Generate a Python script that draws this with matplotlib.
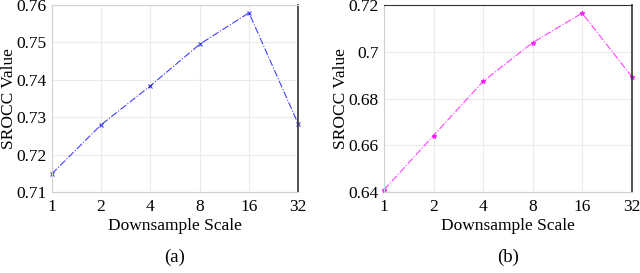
import matplotlib
matplotlib.use("Agg")
import matplotlib.pyplot as plt
import numpy as np

scales = [1, 2, 4, 8, 16, 32]
srocc_a = [0.7149, 0.7280, 0.7384, 0.7495, 0.7579, 0.7282]
srocc_b = [0.6410, 0.6642, 0.6873, 0.7039, 0.7165, 0.6894]
yticks_a = [0.71, 0.72, 0.73, 0.74, 0.75, 0.76]
yticklabels_a = ["0.71", "0.72", "0.73", "0.74", "0.75", "0.76"]
yticks_b = [0.64, 0.66, 0.68, 0.70, 0.72]
yticklabels_b = ["0.64", "0.66", "0.68", "0.7", "0.72"]
captions = ["(a)", "(b)"]

plt.rcParams['font.family'] = ['Liberation Serif', 'DejaVu Serif']

fig = plt.figure(figsize=(6.4, 2.73), dpi=100)
ax_a = fig.add_axes([0.081, 0.296, 0.385, 0.686])
ax_b = fig.add_axes([0.600, 0.296, 0.387, 0.686])

x = np.log2(scales)

def style(ax, ys, yticks, ylabels, color, marker, caption, dark_top):
    ax.plot(x, ys, color=color, linestyle='-.', linewidth=0.8, marker=marker,
            markersize=3.5, markeredgewidth=0.8, alpha=0.75, clip_on=False)
    ax.set_xlim(x[0], x[-1])
    ax.set_ylim(yticks[0], yticks[-1])
    ax.set_xticks(x)
    ax.set_xticklabels([str(s) for s in scales])
    ax.set_yticks(yticks)
    ax.set_yticklabels(ylabels)
    ax.grid(True, color='#ebebeb', linewidth=0.8)
    ax.set_axisbelow(True)
    for side in ['left', 'bottom']:
        ax.spines[side].set_color('#d0d0d0')
    ax.spines['right'].set_color('#333333')
    ax.spines['right'].set_linewidth(1.2)
    ax.spines['top'].set_color('#333333' if dark_top else '#d0d0d0')
    ax.tick_params(axis='x', length=0, pad=5, labelsize=12.5)
    ax.tick_params(axis='y', length=0, pad=4, labelsize=12.5)
    ax.set_xlabel('Downsample Scale', fontsize=12.5, labelpad=2)
    ax.set_ylabel('SROCC Value', fontsize=12.5, va='center')
    ax.yaxis.set_label_coords(-0.172, 0.5)
    ax.text(0.5, -0.348, caption, transform=ax.transAxes, ha='center', va='center', fontsize=13.5)

style(ax_a, srocc_a, yticks_a, yticklabels_a, '#0000ff', 'x', captions[0], False)
style(ax_b, srocc_b, yticks_b, yticklabels_b, '#ff00ff', '*', captions[1], True)

fig.savefig('out.png', dpi=100)
